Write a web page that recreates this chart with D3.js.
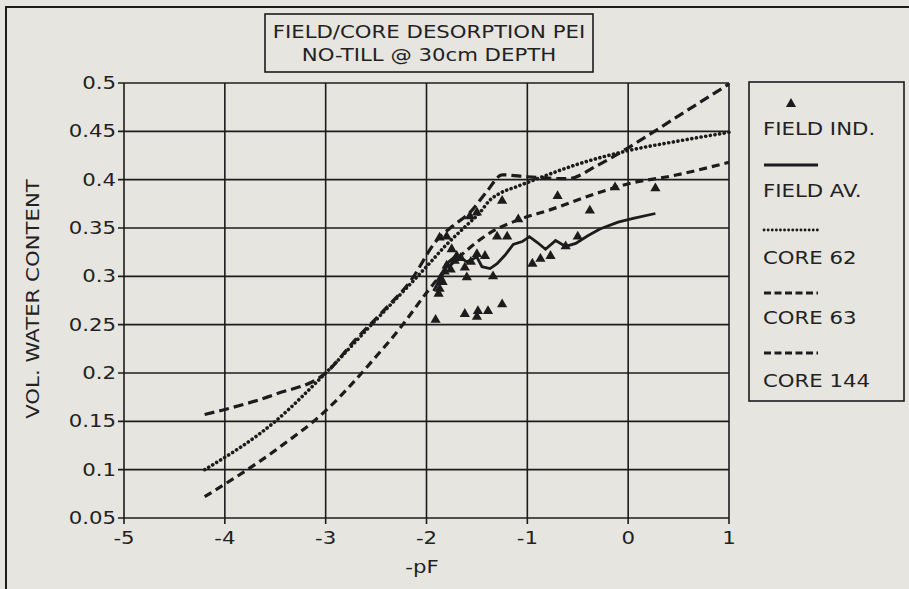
<!DOCTYPE html>
<html>
<head>
<meta charset="utf-8">
<script src="https://cdn.jsdelivr.net/npm/d3@7"></script>
<style>
  html, body { margin: 0; padding: 0; background: #e7e5e0; }
  svg { display: block; }
  text { font-family: "DejaVu Sans", "Liberation Sans", sans-serif; fill: #222; }
</style>
</head>
<body>
<svg id="chart" width="909" height="589"></svg>
<script>
const xTicks = [-5, -4, -3, -2, -1, 0, 1];
const yTicks = [0.05, 0.1, 0.15, 0.2, 0.25, 0.3, 0.35, 0.4, 0.45, 0.5];

// measured points, -pF vs volumetric water content
const fieldInd = [
  [-1.91, 0.254], [-1.62, 0.26], [-1.5, 0.257], [-1.49, 0.263], [-1.39, 0.263], [-1.25, 0.27],
  [-1.87, 0.286], [-1.84, 0.293], [-1.88, 0.281], [-1.86, 0.297], [-1.82, 0.304], [-1.8, 0.31],
  [-1.6, 0.298], [-1.34, 0.299], [-1.42, 0.32], [-1.7, 0.32], [-1.66, 0.318], [-1.75, 0.327],
  [-1.72, 0.315], [-1.56, 0.314], [-1.5, 0.322], [-1.62, 0.308], [-1.76, 0.306],
  [-1.87, 0.339], [-1.8, 0.34], [-1.3, 0.34], [-1.2, 0.34], [-1.5, 0.365], [-1.57, 0.361],
  [-1.25, 0.377], [-1.09, 0.358], [-0.7, 0.382], [-0.38, 0.367], [-0.13, 0.391], [0.27, 0.39],
  [-0.95, 0.312], [-0.87, 0.317], [-0.77, 0.32], [-0.62, 0.33], [-0.5, 0.34]
];
const fieldAv = [
  [-1.93, 0.285], [-1.85, 0.3], [-1.78, 0.315], [-1.7, 0.322], [-1.6, 0.315], [-1.5, 0.32],
  [-1.45, 0.31], [-1.37, 0.308], [-1.3, 0.313], [-1.22, 0.322], [-1.14, 0.333], [-1.05, 0.336],
  [-0.98, 0.341], [-0.9, 0.335], [-0.82, 0.328], [-0.72, 0.337], [-0.62, 0.331], [-0.52, 0.334],
  [-0.4, 0.342], [-0.28, 0.349], [-0.1, 0.356], [0.05, 0.36], [0.27, 0.365]
];
const core62 = [
  [-4.2, 0.1], [-3.5, 0.15], [-3, 0.2], [-2.5, 0.255], [-2, 0.31], [-1.8, 0.333], [-1.6, 0.353],
  [-1.47, 0.366], [-1.37, 0.379], [-1.27, 0.386], [-1.1, 0.393], [-0.9, 0.401], [-0.5, 0.416],
  [0, 0.43], [0.5, 0.44], [1, 0.449]
];
const core63 = [
  [-4.2, 0.072], [-3.5, 0.12], [-3, 0.161], [-2.5, 0.217], [-2.25, 0.248], [-2, 0.283],
  [-1.9, 0.296], [-1.6, 0.327], [-1.37, 0.345], [-1.1, 0.358], [-0.77, 0.369], [-0.28, 0.387],
  [0.05, 0.397], [0.39, 0.403], [1, 0.418]
];
const core144 = [
  [-4.2, 0.157], [-3.5, 0.178], [-3, 0.2], [-2.7, 0.235], [-2.43, 0.264], [-2.16, 0.295],
  [-1.9, 0.337], [-1.74, 0.352], [-1.57, 0.366], [-1.4, 0.388], [-1.25, 0.405], [-1.0, 0.403],
  [-0.6, 0.401], [-0.3, 0.415], [0, 0.433], [0.5, 0.466], [1, 0.499]
];
const legendLabels = ["FIELD IND.", "FIELD AV.", "CORE 62", "CORE 63", "CORE 144"];

const svg = d3.select("#chart");
const ink = "#1c1c1c";
const bg = "#e7e5e0";

// scanned page frame (only left/top visible)
svg.append("rect").attr("x", 6).attr("y", 7).attr("width", 960).attr("height", 640)
  .attr("fill", "none").attr("stroke", ink).attr("stroke-width", 2);

const x = d3.scaleLinear().domain([-5, 1]).range([124, 729]);
const y = d3.scaleLinear().domain([0.05, 0.5]).range([518, 83]);

const grid = svg.append("g").attr("stroke", ink).attr("stroke-width", 1.6);
grid.selectAll(".gx").data(xTicks).join("line")
  .attr("x1", d => x(d)).attr("x2", d => x(d))
  .attr("y1", y(0.5)).attr("y2", y(0.05) + 6);
grid.selectAll(".gy").data(yTicks).join("line")
  .attr("x1", x(-5) - 6).attr("x2", x(1))
  .attr("y1", d => y(d)).attr("y2", d => y(d));

svg.append("g").selectAll("text").data(yTicks).join("text")
  .attr("x", x(-5) - 8).attr("y", d => y(d)).attr("dy", "0.35em")
  .attr("text-anchor", "end").attr("font-size", 17)
  .text(d => String(+d.toFixed(2)));

svg.append("g").selectAll("text").data(xTicks).join("text")
  .attr("x", d => x(d)).attr("y", y(0.05) + 26)
  .attr("text-anchor", "middle").attr("font-size", 17)
  .text(d => d);

svg.append("text").attr("x", 422).attr("y", 573).attr("text-anchor", "middle")
  .attr("font-size", 17).text("-pF");

svg.append("text").attr("transform", "translate(39,299) rotate(-90)")
  .attr("text-anchor", "middle").attr("font-size", 17).text("VOL. WATER CONTENT");

// title box
svg.append("rect").attr("x", 265).attr("y", 14).attr("width", 328).attr("height", 58)
  .attr("fill", bg).attr("stroke", ink).attr("stroke-width", 1.6);
svg.append("text").attr("x", 429).attr("y", 38).attr("text-anchor", "middle")
  .attr("font-size", 17).text("FIELD/CORE DESORPTION PEI");
svg.append("text").attr("x", 429).attr("y", 61).attr("text-anchor", "middle")
  .attr("font-size", 17).text("NO-TILL @ 30cm DEPTH");

const line = d3.line().x(d => x(d[0])).y(d => y(d[1]));
const smooth = d3.line().x(d => x(d[0])).y(d => y(d[1])).curve(d3.curveMonotoneX);

const dots = "0.1,4.6";
const lines = [
  { data: core62, gen: smooth, dash: dots, width: 3.6 },
  { data: core63, gen: smooth, dash: "8,5", width: 3.2 },
  { data: core144, gen: smooth, dash: "10,5", width: 3.2 },
  { data: fieldAv, gen: line, dash: null, width: 2.8 }
];
svg.append("g").selectAll("path").data(lines).join("path")
  .attr("d", d => d.gen(d.data))
  .attr("fill", "none").attr("stroke", ink)
  .attr("stroke-width", d => d.width)
  .attr("stroke-linecap", d => d.dash === dots ? "round" : "butt")
  .attr("stroke-dasharray", d => d.dash);

const tri = d3.symbol().type(d3.symbolTriangle).size(45);
svg.append("g").selectAll("path").data(fieldInd).join("path")
  .attr("transform", d => `translate(${x(d[0])},${y(d[1]) - 1})`)
  .attr("d", tri).attr("fill", ink);

// legend
const lg = svg.append("g");
lg.append("rect").attr("x", 749).attr("y", 82).attr("width", 155).attr("height", 319)
  .attr("fill", bg).attr("stroke", ink).attr("stroke-width", 1.6);
lg.append("path").attr("transform", "translate(791,104)").attr("d", tri).attr("fill", ink);
const labelY = [129, 191, 258, 318, 381];
lg.selectAll("text").data(legendLabels).join("text")
  .attr("x", 763).attr("y", (d, i) => labelY[i]).attr("dy", "0.35em")
  .attr("font-size", 17).text(d => d);
const swatches = [
  { y: 165, dash: null, width: 2.8, cap: "butt" },
  { y: 230, dash: "0.1,4", width: 2.8, cap: "round" },
  { y: 293, dash: "7,3.5", width: 3, cap: "butt" },
  { y: 353, dash: "7,3.5", width: 3, cap: "butt" }
];
lg.selectAll("line").data(swatches).join("line")
  .attr("x1", 764).attr("x2", 818).attr("y1", d => d.y).attr("y2", d => d.y)
  .attr("stroke", ink).attr("stroke-width", d => d.width)
  .attr("stroke-linecap", d => d.cap).attr("stroke-dasharray", d => d.dash);

// the original typeface is a wide geometric sans; stretch glyphs to match
svg.selectAll("text").each(function () {
  const w = this.getComputedTextLength();
  d3.select(this).attr("textLength", w * 1.25).attr("lengthAdjust", "spacingAndGlyphs");
});
</script>
</body>
</html>
